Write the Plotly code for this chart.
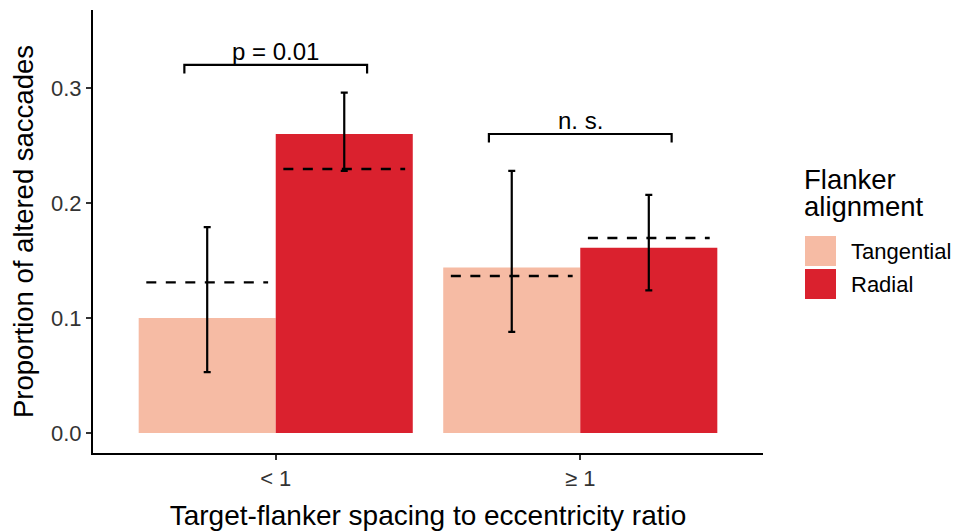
import plotly.graph_objects as go

# ---------------- data ----------------
categories = ["< 1", "≥ 1"]
category_pos = [1, 2]
groups = ["Tangential", "Radial"]
group_colors = ["#F6BBA4", "#DA212E"]

tangential_mean = [0.100, 0.144]
radial_mean = [0.260, 0.161]
tangential_ci_low = [0.053, 0.088]
tangential_ci_high = [0.179, 0.228]
radial_ci_low = [0.228, 0.124]
radial_ci_high = [0.296, 0.207]
tangential_ref = [0.131, 0.1365]
radial_ref = [0.2295, 0.1695]

sig_labels = ["p = 0.01", "n. s."]
sig_heights = [0.320, 0.260]

y_ticks = [0.0, 0.1, 0.2, 0.3]

# ---------------- figure ----------------
# page body has an 8px margin, so the figure is laid out 8px smaller
OFF = 8
W, H = 962 - OFF, 531 - OFF
ML, MR, MT, MB = 85, 199, 2, 78
PW, PH = W - ML - MR, H - MT - MB
FONT = "Liberation Sans, Arial, Helvetica, sans-serif"

def px_x(px):
    return (px - OFF - ML) / PW

def px_y(py):
    return (H - MB - (py - OFF)) / PH

fig = go.Figure()

dodge = 0.225
means = [tangential_mean, radial_mean]
lows = [tangential_ci_low, radial_ci_low]
highs = [tangential_ci_high, radial_ci_high]
refs = [tangential_ref, radial_ref]

for gi, g in enumerate(groups):
    m, lo, hi = means[gi], lows[gi], highs[gi]
    fig.add_trace(go.Bar(
        x=category_pos, y=m, name=g, marker=dict(color=group_colors[gi], line=dict(width=0)),
        error_y=dict(type="data", symmetric=False,
                     array=[h - v for h, v in zip(hi, m)],
                     arrayminus=[v - l for v, l in zip(m, lo)],
                     color="black", thickness=2.2, width=3.5),
        showlegend=False,
    ))

# dashed reference lines
for gi, g in enumerate(groups):
    off = -dodge if gi == 0 else dodge
    xs, ys = [], []
    for p, r in zip(category_pos, refs[gi]):
        xs += [p + off - 0.2, p + off + 0.2, None]
        ys += [r, r, None]
    fig.add_trace(go.Scatter(x=xs, y=ys, mode="lines",
                             line=dict(color="black", width=2.4, dash="10px,9.5px"),
                             showlegend=False, hoverinfo="skip"))

# significance brackets
tick_drop = 0.0075
for p, h, lab in zip(category_pos, sig_heights, sig_labels):
    fig.add_trace(go.Scatter(
        x=[p - 0.3, p - 0.3, p + 0.3, p + 0.3],
        y=[h - tick_drop, h, h, h - tick_drop],
        mode="lines", line=dict(color="black", width=2.2),
        showlegend=False, hoverinfo="skip"))
    fig.add_annotation(x=p, y=h, text=lab, showarrow=False, xanchor="center",
                       yanchor="bottom", yshift=-2,
                       font=dict(family=FONT, size=24, color="black"))

# manual legend (ggplot-style large keys)
fig.add_annotation(xref="paper", yref="paper", x=px_x(802), y=px_y(179),
                   text="Flanker", showarrow=False, xanchor="left", yanchor="middle",
                   font=dict(family=FONT, size=27.5, color="black"))
fig.add_annotation(xref="paper", yref="paper", x=px_x(802), y=px_y(206),
                   text="alignment", showarrow=False, xanchor="left", yanchor="middle",
                   font=dict(family=FONT, size=27.5, color="black"))
key_tops = [236, 269]
for gi, g in enumerate(groups):
    t = key_tops[gi]
    fig.add_shape(type="rect", xref="paper", yref="paper",
                  x0=px_x(805), x1=px_x(836), y0=px_y(t + 30), y1=px_y(t),
                  fillcolor=group_colors[gi], line=dict(width=0))
    fig.add_annotation(xref="paper", yref="paper", x=px_x(849), y=px_y(t + 15),
                       text=g, showarrow=False, xanchor="left", yanchor="middle",
                       font=dict(family=FONT, size=22, color="black"))

fig.update_layout(
    width=W, height=H,
    margin=dict(l=ML, r=MR, t=MT, b=MB, autoexpand=False),
    plot_bgcolor="white", paper_bgcolor="white",
    barmode="group", bargap=0.1, bargroupgap=0.0,
    font=dict(family=FONT, color="black"),
    showlegend=False,
)
fig.update_xaxes(
    range=[0.4, 2.6], tickvals=category_pos, ticktext=categories,
    showgrid=False, zeroline=False, showline=True, linecolor="black", linewidth=2,
    ticks="outside", ticklen=5, tickwidth=1.8, tickcolor="#333333",
    tickfont=dict(family=FONT, size=22, color="#333333"),
    title=dict(text="Target-flanker spacing to eccentricity ratio",
               font=dict(family=FONT, size=28, color="black"), standoff=16),
)
fig.update_yaxes(
    range=[-0.0174, 0.3678], tickvals=y_ticks, ticktext=[f"{v:.1f}" for v in y_ticks],
    showgrid=False, zeroline=False, showline=True, linecolor="black", linewidth=2,
    ticks="outside", ticklen=5, tickwidth=1.8, tickcolor="#333333",
    tickfont=dict(family=FONT, size=22, color="#333333"),
    title=dict(text="Proportion of altered saccades",
               font=dict(family=FONT, size=27.5, color="black"), standoff=10),
)

fig.write_html("out.html")
